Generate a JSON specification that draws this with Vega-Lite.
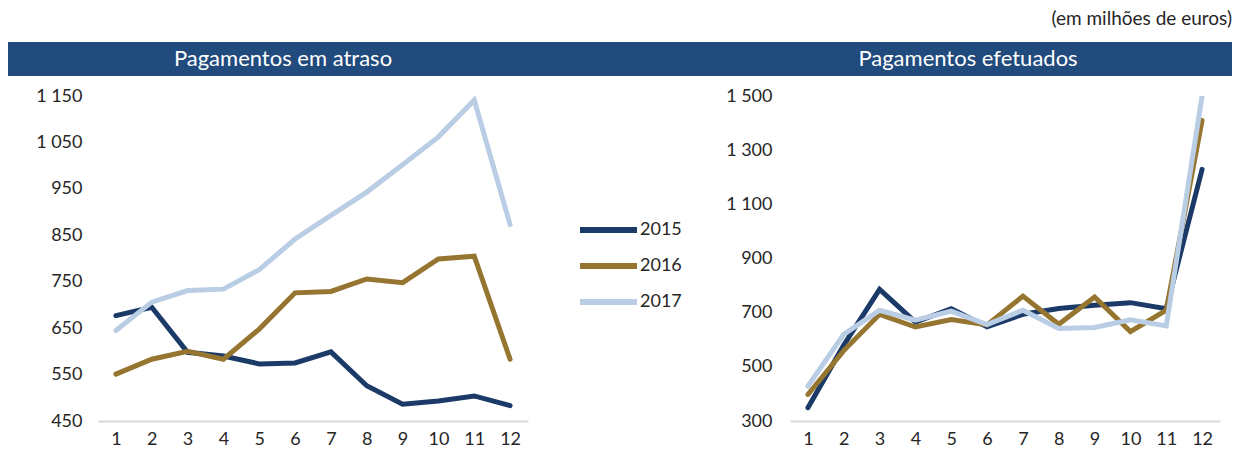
{
  "$schema": "https://vega.github.io/schema/vega-lite/v6.json",
  "padding": {"left": 8, "right": 7, "top": 10, "bottom": 0},
  "background": "white",
  "config": {"view": {"stroke": null}, "font": "Lato"},
  "title": {"text": "(em milhões de euros)", "anchor": "end", "fontSize": 19, "fontWeight": "normal", "color": "#262626", "font": "Lato", "offset": 13},
  "datasets": {
    "atraso": [
      {"ano": "2015", "m": 1, "v": 677}, {"ano": "2015", "m": 2, "v": 695}, {"ano": "2015", "m": 3, "v": 598}, {"ano": "2015", "m": 4, "v": 590},
      {"ano": "2015", "m": 5, "v": 573}, {"ano": "2015", "m": 6, "v": 575}, {"ano": "2015", "m": 7, "v": 599}, {"ano": "2015", "m": 8, "v": 526},
      {"ano": "2015", "m": 9, "v": 486}, {"ano": "2015", "m": 10, "v": 493}, {"ano": "2015", "m": 11, "v": 504}, {"ano": "2015", "m": 12, "v": 483},
      {"ano": "2016", "m": 1, "v": 551}, {"ano": "2016", "m": 2, "v": 583}, {"ano": "2016", "m": 3, "v": 600}, {"ano": "2016", "m": 4, "v": 583},
      {"ano": "2016", "m": 5, "v": 648}, {"ano": "2016", "m": 6, "v": 726}, {"ano": "2016", "m": 7, "v": 729}, {"ano": "2016", "m": 8, "v": 756},
      {"ano": "2016", "m": 9, "v": 748}, {"ano": "2016", "m": 10, "v": 799}, {"ano": "2016", "m": 11, "v": 805}, {"ano": "2016", "m": 12, "v": 583},
      {"ano": "2017", "m": 1, "v": 645}, {"ano": "2017", "m": 2, "v": 706}, {"ano": "2017", "m": 3, "v": 731}, {"ano": "2017", "m": 4, "v": 734},
      {"ano": "2017", "m": 5, "v": 776}, {"ano": "2017", "m": 6, "v": 842}, {"ano": "2017", "m": 7, "v": 893}, {"ano": "2017", "m": 8, "v": 943},
      {"ano": "2017", "m": 9, "v": 1002}, {"ano": "2017", "m": 10, "v": 1062}, {"ano": "2017", "m": 11, "v": 1141}, {"ano": "2017", "m": 12, "v": 873}
    ],
    "efetuados": [
      {"ano": "2015", "m": 1, "v": 349}, {"ano": "2015", "m": 2, "v": 580}, {"ano": "2015", "m": 3, "v": 786}, {"ano": "2015", "m": 4, "v": 665},
      {"ano": "2015", "m": 5, "v": 715}, {"ano": "2015", "m": 6, "v": 648}, {"ano": "2015", "m": 7, "v": 694}, {"ano": "2015", "m": 8, "v": 715},
      {"ano": "2015", "m": 9, "v": 727}, {"ano": "2015", "m": 10, "v": 737}, {"ano": "2015", "m": 11, "v": 715}, {"ano": "2015", "m": 12, "v": 1229},
      {"ano": "2016", "m": 1, "v": 398}, {"ano": "2016", "m": 2, "v": 560}, {"ano": "2016", "m": 3, "v": 694}, {"ano": "2016", "m": 4, "v": 647},
      {"ano": "2016", "m": 5, "v": 675}, {"ano": "2016", "m": 6, "v": 655}, {"ano": "2016", "m": 7, "v": 761}, {"ano": "2016", "m": 8, "v": 657},
      {"ano": "2016", "m": 9, "v": 758}, {"ano": "2016", "m": 10, "v": 630}, {"ano": "2016", "m": 11, "v": 709}, {"ano": "2016", "m": 12, "v": 1410},
      {"ano": "2017", "m": 1, "v": 429}, {"ano": "2017", "m": 2, "v": 620}, {"ano": "2017", "m": 3, "v": 709}, {"ano": "2017", "m": 4, "v": 672},
      {"ano": "2017", "m": 5, "v": 706}, {"ano": "2017", "m": 6, "v": 656}, {"ano": "2017", "m": 7, "v": 709}, {"ano": "2017", "m": 8, "v": 642},
      {"ano": "2017", "m": 9, "v": 645}, {"ano": "2017", "m": 10, "v": 674}, {"ano": "2017", "m": 11, "v": 651}, {"ano": "2017", "m": 12, "v": 1500}
    ]
  },
  "concat": [
    {
      "hconcat": [
        {"width": 550, "height": 34, "view": {"fill": "#214A7D", "stroke": null}, "data": {"values": [{"t": "Pagamentos em atraso"}]},
         "mark": {"type": "text", "color": "white", "fontSize": 22, "font": "Lato"}, "encoding": {"text": {"field": "t", "type": "nominal"}}},
        {"width": 146, "height": 34, "view": {"fill": "#214A7D", "stroke": null}, "data": {"values": [{"t": ""}]},
         "mark": {"type": "text", "color": "white", "fontSize": 22, "font": "Lato"}, "encoding": {"text": {"field": "t", "type": "nominal"}}},
        {"width": 528, "height": 34, "view": {"fill": "#214A7D", "stroke": null}, "data": {"values": [{"t": "Pagamentos efetuados"}]},
         "mark": {"type": "text", "color": "white", "fontSize": 22, "font": "Lato"}, "encoding": {"text": {"field": "t", "type": "nominal"}}}
      ],
      "spacing": 0
    },
    {
      "hconcat": [
        {
          "width": 520, "height": 325,
          "data": {"name": "atraso"},
          "mark": {"type": "line", "strokeWidth": 5, "strokeCap": "round"},
          "encoding": {
            "x": {"field": "m", "type": "ordinal", "scale": {"type": "point", "padding": 0.5, "range": [90, 520]},
                  "axis": {"title": null, "labelAngle": 0, "ticks": false, "domainColor": "#D9D9D9", "domainWidth": 2, "labelFontSize": 18, "labelColor": "#262626", "labelPadding": 9, "labelFont": "Lato"}},
            "y": {"field": "v", "type": "quantitative", "scale": {"domain": [450, 1150], "nice": false, "zero": false},
                  "axis": {"title": null, "offset": -90, "values": [450, 550, 650, 750, 850, 950, 1050, 1150], "domain": false, "ticks": false, "grid": false, "labelFontSize": 18, "labelColor": "#262626", "labelFont": "Lato", "labelPadding": 16, "labelExpr": "replace(format(datum.value, ','), ',', ' ')"}},
            "color": {"field": "ano", "type": "nominal", "scale": {"domain": ["2015", "2016", "2017"], "range": ["#1B3A68", "#957530", "#B9CDE5"]},
                      "legend": {"title": null, "orient": "none", "legendX": 569, "legendY": 116, "symbolType": "stroke", "symbolSize": 3249, "symbolStrokeWidth": 6, "labelFontSize": 18, "labelFont": "Lato", "labelColor": "#262626", "labelOffset": 0, "rowPadding": 0, "clipHeight": 36, "padding": 0}}
          }
        },
        {
          "width": 430, "height": 325,
          "data": {"name": "efetuados"},
          "mark": {"type": "line", "strokeWidth": 5, "strokeCap": "round", "clip": true},
          "encoding": {
            "x": {"field": "m", "type": "ordinal", "scale": {"type": "point", "padding": 0.5},
                  "axis": {"title": null, "labelAngle": 0, "ticks": false, "domainColor": "#D9D9D9", "domainWidth": 2, "labelFontSize": 18, "labelColor": "#262626", "labelPadding": 9, "labelFont": "Lato"}},
            "y": {"field": "v", "type": "quantitative", "scale": {"domain": [300, 1500], "nice": false, "zero": false},
                  "axis": {"title": null, "values": [300, 500, 700, 900, 1100, 1300, 1500], "domain": false, "ticks": false, "grid": false, "labelFontSize": 18, "labelColor": "#262626", "labelFont": "Lato", "labelPadding": 18, "minExtent": 90, "labelExpr": "replace(format(datum.value, ','), ',', ' ')"}},
            "color": {"field": "ano", "type": "nominal", "scale": {"domain": ["2015", "2016", "2017"], "range": ["#1B3A68", "#957530", "#B9CDE5"]}, "legend": null}
          }
        }
      ],
      "spacing": 18,
      "resolve": {"scale": {"color": "independent", "x": "independent", "y": "independent"}, "legend": {"color": "independent"}}
    }
  ],
  "columns": 1,
  "spacing": 11,
  "resolve": {"scale": {"color": "independent"}, "legend": {"color": "independent"}}
}
